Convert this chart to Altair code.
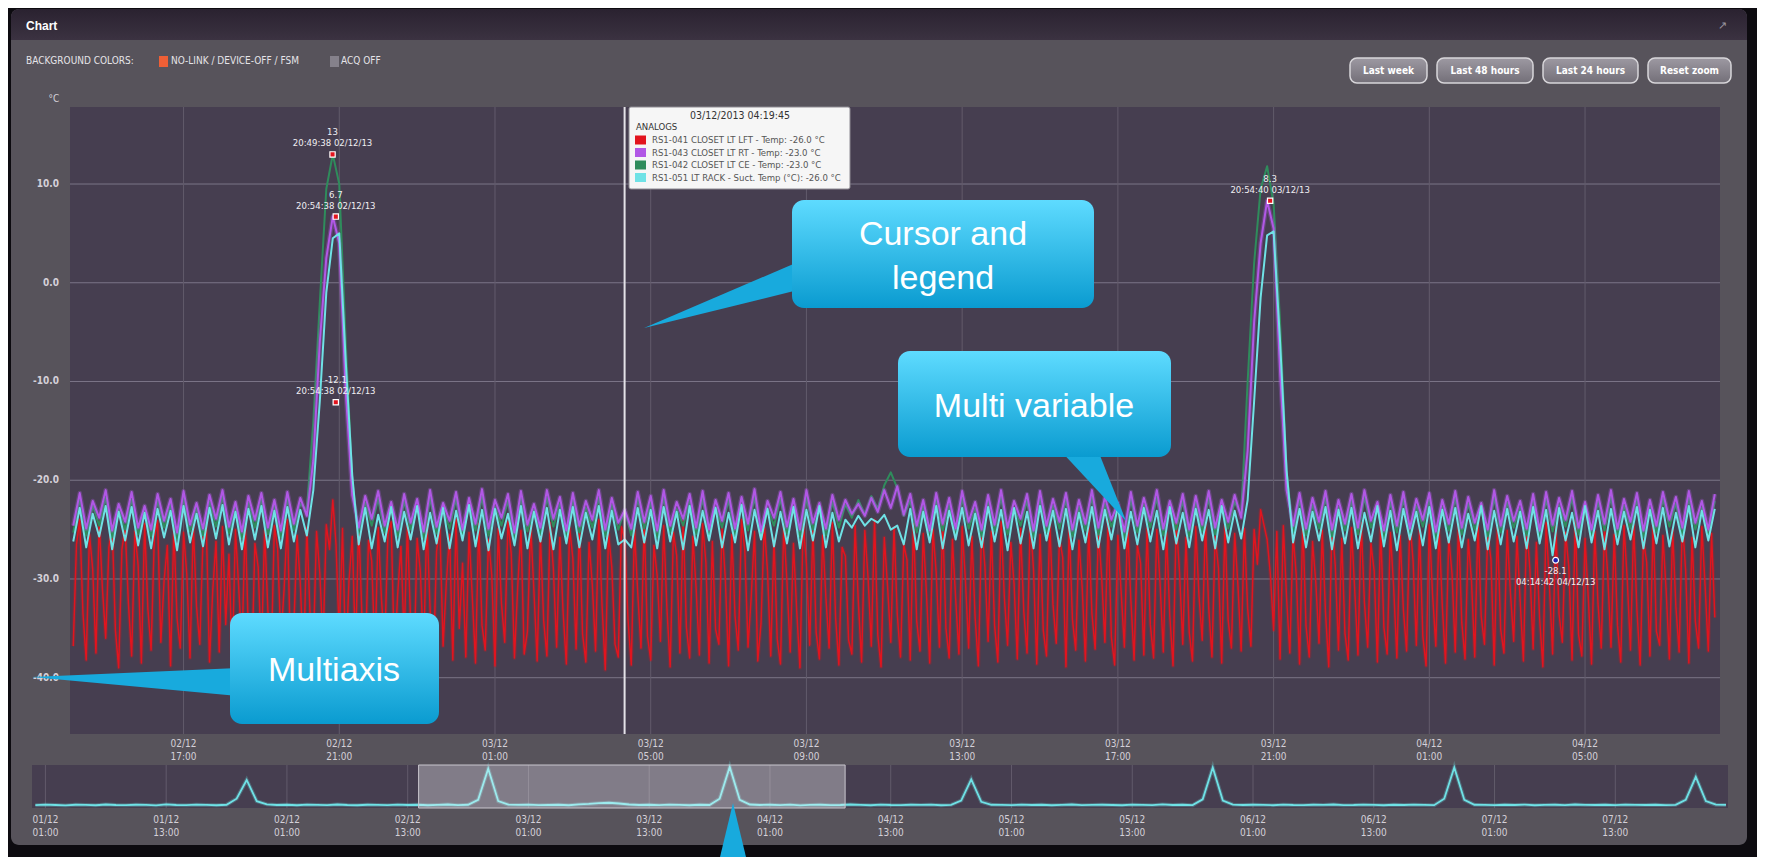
import altair as alt
import pandas as pd

# ---------------- values ----------------
MAIN_START = "2013-12-02 14:10"   # zoomed window
MAIN_FREQ = "10min"               # purple / green / cyan samples
RED_FREQ = "5min"                 # red (LFT) samples

red_lft = [
    -36.8,-26.5,-24.0,-33.5,-38.2,-25.5,-29.0,-37.5,-24.2,-31.0,-36.0,-26.8,
    -24.6,-35.2,-39.0,-27.0,-24.8,-32.4,-37.8,-25.2,-28.6,-38.5,-24.4,-33.0,
    -37.2,-25.8,-24.1,-36.4,-30.2,-26.6,-38.8,-24.9,-34.0,-37.0,-25.3,-29.5,
    -38.0,-24.5,-32.8,-36.6,-25.9,-24.3,-38.4,-31.2,-26.2,-37.4,-24.7,-34.6,
    -27.5,-38.6,-25.0,-30.8,-37.1,-24.2,-35.5,-39.1,-26.4,-28.8,-37.6,-25.1,
    -33.2,-38.3,-24.6,-26.9,-36.2,-31.0,-24.0,-37.9,-34.8,-25.6,-30.5,-38.7,
    -24.8,-33.6,-37.0,-25.2,-29.4,-36.5,-24.5,-27.0,-22.0,-26.5,-35.8,-24.9,
    -38.4,-30.2,-25.7,-37.3,-24.3,-33.9,-38.9,-26.1,-28.2,-37.7,-24.8,-32.0,
    -36.9,-25.4,-24.2,-38.1,-31.6,-26.7,-36.0,-24.6,-34.4,-39.0,-25.9,-29.3,
    -37.5,-24.1,-33.1,-38.6,-27.2,-24.7,-36.8,-30.4,-25.5,-38.2,-24.0,-35.0,
    -28.4,-37.9,-25.3,-31.8,-38.5,-24.4,-34.7,-37.2,-26.0,-29.6,-38.8,-24.9,
    -32.5,-36.4,-24.2,-27.4,-38.0,-30.8,-25.1,-37.6,-35.3,-24.6,-31.2,-38.3,
    -25.6,-34.2,-37.8,-24.3,-29.0,-36.9,-25.8,-33.4,-38.6,-24.8,-27.9,-37.1,
    -24.5,-35.6,-38.4,-26.3,-30.6,-37.3,-24.0,-32.7,-39.2,-25.4,-28.8,-36.6,
    -37.9,-24.7,-26.0,-34.1,-38.7,-25.0,-31.4,-37.0,-24.3,-35.8,-38.2,-26.6,
    -29.7,-36.3,-24.6,-33.0,-38.9,-25.3,-27.6,-37.5,-24.1,-34.9,-38.0,-25.7,
    -31.0,-37.7,-24.4,-28.3,-38.5,-26.2,-35.1,-36.6,-24.8,-30.0,-38.8,-25.5,
    -33.8,-37.2,-24.0,-27.1,-36.9,-31.7,-25.2,-38.3,-34.5,-24.5,-29.2,-37.8,
    -25.9,-36.1,-38.6,-24.7,-30.3,-37.4,-26.4,-33.2,-39.0,-24.2,-28.5,-36.7,
    -24.9,-35.4,-38.1,-25.6,-31.9,-37.0,-24.3,-34.0,-38.7,-26.8,-27.7,-36.2,
    -37.6,-24.6,-32.3,-38.4,-25.1,-29.9,-36.8,-24.0,-35.7,-38.9,-25.8,-30.7,
    -36.4,-24.8,-33.6,-37.9,-26.5,-28.1,-38.2,-24.4,-34.3,-37.3,-25.4,-31.5,
    -38.5,-25.0,-29.4,-36.9,-24.1,-35.0,-38.0,-26.0,-32.0,-37.6,-24.7,-30.1,
    -37.0,-25.7,-33.9,-38.8,-24.5,-28.7,-36.3,-25.2,-34.7,-38.4,-24.2,-31.8,
    -36.7,-26.3,-30.5,-38.1,-24.9,-33.3,-37.5,-24.0,-29.1,-38.6,-25.5,-35.2,
    -37.8,-24.3,-32.6,-36.5,-25.9,-27.8,-38.9,-24.6,-34.1,-37.2,-26.1,-30.9,
    -38.3,-24.8,-33.5,-37.1,-25.2,-29.8,-36.4,-24.1,-35.9,-38.7,-25.6,-31.3,
    -36.9,-24.5,-32.1,-38.2,-26.6,-28.4,-37.7,-24.9,-34.6,-38.0,-25.0,-30.4,
    -37.4,-25.3,-33.7,-38.8,-24.2,-29.3,-36.6,-25.8,-35.4,-38.3,-24.7,-31.7,
    -36.2,-24.4,-32.9,-37.9,-25.7,-28.9,-38.5,-24.6,-34.2,-37.0,-25.4,-30.6,
    -37.3,-24.9,-33.0,-36.8,-25.0,-28.5,-23.0,-24.5,-26.0,-29.5,-35.2,-25.2,
    -38.1,-24.6,-31.9,-37.5,-25.5,-29.7,-38.6,-24.2,-34.8,-37.9,-26.2,-30.3,
    -36.5,-25.1,-33.4,-38.9,-24.4,-28.6,-37.2,-25.9,-35.5,-38.2,-24.8,-31.1,
    -37.7,-24.3,-32.4,-36.9,-26.4,-29.2,-38.4,-24.7,-34.9,-37.6,-25.3,-30.8,
    -38.0,-25.6,-33.1,-37.3,-24.1,-28.2,-36.7,-25.0,-35.8,-38.8,-24.5,-31.6,
    -36.8,-24.9,-32.7,-38.5,-25.8,-29.5,-37.4,-24.4,-34.4,-38.1,-26.0,-30.2,
    -37.9,-24.2,-33.8,-36.6,-25.4,-28.0,-38.7,-24.8,-35.1,-37.5,-25.1,-31.4,
    -36.3,-25.7,-32.2,-38.3,-24.6,-29.0,-37.1,-26.3,-34.0,-38.9,-24.3,-30.5,
    -37.6,-24.7,-33.6,-36.4,-25.3,-28.8,-38.2,-24.0,-35.6,-37.8,-25.9,-31.9,
    -38.6,-25.2,-32.5,-37.0,-24.9,-29.6,-36.9,-25.5,-34.7,-38.4,-24.6,-30.0,
    -37.2,-24.5,-33.2,-38.7,-26.1,-28.3,-37.8,-24.3,-35.3,-36.7,-25.6,-31.2,
    -38.1,-25.0,-32.8,-37.4,-24.2,-29.1,-38.5,-25.8,-34.3,-37.0,-24.7,-30.7,
    -37.3,-25.4,-33.9,
]

purple_rt = [
    -24.6,-21.3,-24.9,-22.1,-23.8,-21.0,-25.1,-22.4,-24.2,
    -21.2,-24.8,-22.6,-25.0,-21.4,-24.1,-21.9,-25.3,-21.1,-24.5,
    -22.3,-24.9,-21.5,-23.9,-21.0,-24.7,-22.2,-25.2,-21.6,-24.0,
    -21.3,-24.8,-22.0,-25.1,-21.2,-24.4,-21.8,-23.6,
    -18.0,-6.0,2.5,6.7,4.0,-11.0,-21.5,
    -24.8,-21.6,-23.9,-21.1,-24.6,
    -22.2,-25.0,-21.4,-24.3,-21.9,-25.2,-21.0,-24.7,-22.3,-24.1,
    -21.2,-25.0,-21.8,-24.4,-20.9,-24.9,-22.0,-23.8,-21.4,-25.3,
    -21.1,-24.5,-22.4,-24.8,-21.0,-23.9,-21.7,-25.1,-21.3,-24.6,
    -22.1,-24.0,-21.0,-25.0,-21.8,-24.3,-23.0,-24.9,-21.2,-24.2,
    -21.6,-25.1,-21.0,-24.6,-22.2,-23.9,-21.4,-24.8,-21.1,-25.0,
    -22.0,-24.1,-21.3,-24.9,-21.7,-24.4,-20.9,-25.2,-22.1,-23.8,
    -21.2,-24.7,-21.9,-25.0,-21.0,-24.3,-22.3,-24.9,-21.5,-24.0,
    -22.0,-23.4,-22.4,-23.6,-21.8,-23.2,-21.0,-22.8,-20.6,-23.5,
    -21.4,-24.6,-22.0,-25.1,-21.3,-24.4,-21.8,-24.9,-21.1,-24.2,
    -22.2,-25.0,-21.5,-24.5,-21.0,-24.8,-22.1,-23.9,-21.4,-25.1,
    -21.1,-24.6,-21.9,-24.2,-21.3,-25.0,-22.0,-24.4,-21.0,-24.8,
    -21.7,-24.0,-22.3,-25.2,-21.2,-24.6,-21.8,-24.1,-21.0,-24.9,
    -22.1,-24.3,-21.4,-25.0,-21.6,-24.5,-21.1,-24.8,-22.0,-24.2,
    -21.5,-23.8,
    -17.0,-4.0,4.0,8.3,5.5,-9.0,-21.0,
    -24.6,-21.3,-24.9,-21.8,-24.2,-21.1,-25.0,-22.0,-24.4,-21.4,-24.8,
    -21.0,-24.1,-22.2,-25.1,-21.5,-24.6,-21.2,-24.9,-21.9,-24.0,
    -21.3,-25.2,-22.0,-24.4,-21.1,-24.8,-21.7,-24.3,-22.3,-25.0,
    -21.0,-24.6,-21.6,-24.1,-22.1,-24.9,-21.4,-25.1,-21.2,-24.5,
    -21.8,-24.0,-21.1,-24.8,-22.2,-25.0,-21.5,-24.4,-21.0,-24.9,
    -21.9,-24.2,-21.3,-25.1,-22.0,-24.6,-21.2,-24.0,-21.7,-24.8,
    -21.1,-24.3,-22.1,-25.0,-21.4,
]

green_ce = [
    -25.3,-21.9,-25.6,-22.6,-24.6,-21.8,-25.8,-22.9,-25.0,
    -22.0,-25.5,-23.0,-25.7,-22.1,-24.8,-22.5,-26.0,-21.9,-25.2,
    -22.8,-25.6,-22.2,-24.7,-21.7,-25.4,-22.7,-25.9,-22.3,-24.8,
    -22.0,-25.5,-22.6,-25.8,-21.9,-25.1,-22.4,-23.0,
    -14.0,-2.0,9.5,13.0,10.0,-6.0,-20.0,
    -25.4,-22.3,-24.6,-21.9,-25.3,
    -22.8,-25.7,-22.1,-25.0,-22.6,-25.9,-21.8,-25.4,-22.9,-24.9,
    -21.9,-25.7,-22.5,-25.1,-21.7,-25.6,-22.7,-24.6,-22.1,-26.0,
    -21.8,-25.2,-23.0,-25.5,-21.8,-24.7,-22.4,-25.8,-22.0,-25.3,
    -22.8,-24.8,-21.8,-25.7,-22.5,-25.0,-23.0,-25.6,-21.9,-24.9,
    -22.3,-25.8,-21.7,-25.3,-22.9,-24.6,-22.1,-25.5,-21.8,-25.7,
    -22.7,-24.8,-22.0,-25.6,-22.4,-25.1,-21.7,-25.9,-22.8,-24.6,
    -21.9,-25.4,-22.6,-25.7,-21.8,-25.0,-23.0,-25.6,-22.2,-24.8,
    -22.5,-23.8,-22.0,-23.5,-21.6,-22.9,-20.5,-19.2,-20.8,-23.6,
    -22.1,-25.3,-22.7,-25.8,-22.0,-25.1,-22.5,-25.6,-21.8,-24.9,
    -22.9,-25.7,-22.2,-25.2,-21.7,-25.5,-22.8,-24.6,-22.1,-25.8,
    -21.8,-25.3,-22.6,-24.9,-22.0,-25.7,-22.7,-25.1,-21.7,-25.5,
    -22.4,-24.7,-23.0,-25.9,-21.9,-25.3,-22.5,-24.8,-21.8,-25.6,
    -22.8,-25.0,-22.1,-25.7,-22.3,-25.2,-21.8,-25.5,-22.7,-24.9,
    -22.2,-23.5,
    -10.0,2.0,9.5,11.8,8.0,-4.0,-19.0,
    -25.3,-22.0,-25.6,-22.5,-24.9,-21.8,-25.7,-22.7,-25.1,-22.1,-25.5,
    -21.7,-24.8,-22.9,-25.8,-22.2,-25.3,-21.9,-25.6,-22.6,-24.7,
    -22.0,-25.9,-22.7,-25.1,-21.8,-25.5,-22.4,-25.0,-23.0,-25.7,
    -21.7,-25.3,-22.3,-24.8,-22.8,-25.6,-22.1,-25.8,-21.9,-25.2,
    -22.5,-24.7,-21.8,-25.5,-22.9,-25.7,-22.2,-25.1,-21.7,-25.6,
    -22.6,-24.9,-22.0,-25.8,-22.7,-25.3,-21.9,-24.7,-22.4,-25.5,
    -21.8,-25.0,-22.8,-25.7,-22.1,
]

cyan_rack = [
    -26.2,-22.8,-26.8,-23.4,-25.7,-22.6,-27.0,-23.2,-26.1,
    -22.7,-26.6,-23.3,-26.9,-22.9,-25.8,-23.1,-27.1,-22.6,-26.3,
    -23.4,-26.7,-22.8,-25.9,-22.5,-26.5,-23.2,-27.0,-22.9,-26.0,
    -22.6,-26.8,-23.1,-26.9,-22.7,-26.2,-23.0,-25.6,
    -21.0,-12.0,-1.0,4.5,5.0,-8.0,-19.5,
    -26.5,-22.8,-26.9,-23.5,-26.2,
    -22.7,-26.8,-23.2,-26.0,-22.6,-27.0,-23.3,-26.4,-22.8,-26.9,
    -23.1,-26.1,-22.5,-26.7,-23.0,-27.1,-22.9,-25.9,-23.4,-26.6,
    -22.6,-26.9,-23.2,-26.2,-22.8,-27.0,-23.0,-26.4,-22.7,-26.8,
    -23.3,-26.0,-22.6,-26.9,-23.1,-26.5,-26.0,-26.8,-22.8,-26.3,
    -23.0,-26.9,-22.7,-26.2,-23.2,-27.0,-22.6,-26.6,-23.1,-26.1,
    -22.8,-26.8,-23.3,-26.3,-22.5,-27.1,-23.0,-26.0,-22.9,-26.7,
    -23.2,-26.4,-22.7,-26.9,-23.0,-26.1,-22.6,-26.8,-23.3,-26.2,
    -24.0,-24.8,-23.6,-24.6,-23.9,-24.3,-23.5,-25.0,-24.6,-26.5,
    -22.9,-27.0,-23.2,-26.3,-22.6,-26.9,-23.1,-26.0,-22.8,-26.6,
    -23.4,-26.8,-22.7,-26.2,-23.0,-27.1,-22.8,-26.4,-23.2,-26.9,
    -22.6,-26.1,-23.1,-26.7,-22.9,-27.0,-23.3,-26.3,-22.7,-26.8,
    -23.0,-26.0,-22.6,-26.9,-23.2,-26.5,-22.8,-26.2,-23.1,-27.0,
    -22.7,-26.4,-23.3,-26.8,-22.9,-26.1,-23.0,-26.9,-22.6,-26.3,
    -23.1,-25.9,
    -22.0,-12.0,-1.5,4.8,5.2,-6.0,-19.0,
    -26.3,-22.9,-26.8,-23.2,-26.1,-22.7,-27.0,-23.0,-26.4,-22.8,-26.9,
    -23.3,-26.2,-22.6,-26.7,-23.1,-27.1,-22.9,-26.0,-23.2,-26.6,
    -22.7,-26.9,-23.0,-26.3,-22.8,-26.8,-23.4,-26.1,-22.6,-27.0,
    -23.1,-26.5,-22.9,-26.2,-23.2,-26.9,-22.7,-26.4,-23.0,-27.6,
    -22.8,-26.1,-23.3,-26.8,-22.6,-26.3,-23.1,-27.0,-22.9,-26.5,
    -23.2,-26.0,-22.7,-26.9,-23.0,-26.4,-22.8,-26.7,-23.3,-26.2,
    -22.6,-26.8,-23.1,-26.1,-22.9,
]

NAV_START = "2013-12-01 00:00"   # navigator, hourly samples over the week
NAV_FREQ = "1h"
nav_rack = [
    -25.2,-24.8,-25.1,-25.4,-24.9,-25.0,-25.3,-24.7,-25.1,-25.2,-24.9,-25.0,
    -25.4,-24.6,-25.1,-25.2,-24.8,-25.0,-25.3,-24.9,-20.0,-5.0,-22.0,-24.6,
    -25.1,-24.9,-25.3,-24.8,-25.0,-25.2,-24.7,-25.1,-25.3,-24.9,-25.0,-25.2,
    -24.8,-25.1,-24.9,-25.3,-25.0,-24.7,-25.2,-24.9,-21.0,4.0,-22.0,-24.8,
    -25.0,-24.8,-25.2,-25.1,-24.9,-25.3,-24.6,-24.2,-23.6,-23.3,-23.9,-24.7,
    -25.1,-24.9,-25.2,-24.8,-25.0,-25.3,-24.9,-25.1,-20.0,5.5,-21.0,-24.7,
    -25.1,-24.9,-25.2,-24.8,-25.4,-25.0,-24.9,-25.2,-25.1,-24.7,-25.0,-25.3,
    -24.8,-25.1,-25.2,-24.9,-25.0,-24.8,-25.3,-25.0,-21.5,-4.5,-22.5,-24.9,
    -25.0,-25.2,-24.8,-25.1,-24.9,-25.3,-25.0,-24.7,-25.2,-25.0,-24.9,-25.1,
    -25.3,-24.8,-25.0,-25.2,-24.6,-25.1,-24.9,-25.2,-20.5,5.0,-21.5,-24.8,
    -25.1,-24.9,-25.0,-25.3,-24.8,-25.1,-25.2,-24.9,-25.0,-24.7,-25.2,-25.1,
    -24.8,-25.0,-25.3,-24.9,-25.1,-24.8,-25.0,-25.2,-20.0,5.0,-21.0,-24.9,
    -25.0,-25.2,-24.9,-25.1,-24.8,-25.3,-25.0,-24.9,-25.2,-24.7,-25.0,-25.1,
    -24.9,-25.2,-24.8,-25.0,-25.1,-24.9,-25.2,-25.0,-21.0,-2.5,-22.0,-24.8,
    -25.0,
]

main_ticks = ["2013-12-02 17:00", "2013-12-02 21:00", "2013-12-03 01:00", "2013-12-03 05:00",
              "2013-12-03 09:00", "2013-12-03 13:00", "2013-12-03 17:00", "2013-12-03 21:00",
              "2013-12-04 01:00", "2013-12-04 05:00"]
y_ticks = [10, 0, -10, -20, -30, -40]
nav_ticks = ["2013-12-01 01:00", "2013-12-01 13:00", "2013-12-02 01:00", "2013-12-02 13:00",
             "2013-12-03 01:00", "2013-12-03 13:00", "2013-12-04 01:00", "2013-12-04 13:00",
             "2013-12-05 01:00", "2013-12-05 13:00", "2013-12-06 01:00", "2013-12-06 13:00",
             "2013-12-07 01:00", "2013-12-07 13:00"]

peak_times = ["2013-12-02 20:49:38", "2013-12-02 20:54:38", "2013-12-02 20:54:38", "2013-12-03 20:54:40"]
peak_values = [13, 6.7, -12.1, 8.3]
min_time = ["2013-12-04 04:14:42"]
min_value = [-28.1]

cursor_time = ["2013-12-03 04:19:45"]
series_names = ["RS1-041 CLOSET LT LFT - Temp", "RS1-043 CLOSET LT RT - Temp",
                "RS1-042 CLOSET LT CE - Temp", "RS1-051 LT RACK - Suct. Temp (°C)"]
cursor_values = [-26.0, -23.0, -23.0, -26.0]
series_colors = ["#e2141e", "#b158e6", "#2f8c5c", "#6fe2e6"]

buttons = ["Last week", "Last 48 hours", "Last 24 hours", "Reset zoom"]

# ---------------- layout / style ----------------
W, H = 1749, 849
PX0, PY0, PX1, PY1 = 62, 99, 1712, 726       # main plot area
NX0, NY0, NX1, NY1 = 24, 757, 1720, 800      # navigator area
BLACK, PANEL, PLOTBG = "#0d0b10", "#57535b", "#463e50"
GRID_H, GRID_V, TXT = "#7b7587", "#625b6b", "#d4d0d8"
NARROW = "Liberation Sans Narrow, DejaVu Sans Condensed, sans-serif"
ARIAL = "Liberation Sans, Arial, sans-serif"


def dt(y, mo, d, h, mi):
    return alt.DateTime(year=y, month=mo, date=d, hours=h, minutes=mi)


main_x = alt.Scale(domain=[dt(2013, 12, 2, 14, 5), dt(2013, 12, 4, 8, 28)], range=[PX0, PX1], nice=False)
main_y = alt.Scale(domain=[-45.7, 17.8], range=[PY1, PY0], zero=False, nice=False)
nav_x = alt.Scale(domain=[dt(2013, 11, 30, 23, 40), dt(2013, 12, 8, 0, 12)], range=[NX0, NX1], nice=False)
nav_y = alt.Scale(domain=[-27.5, 7.0], range=[NY1, NY0], zero=False, nice=False)


def PXQ(f):
    return alt.X(f"{f}:Q", scale=None, axis=None)


def PYQ(f):
    return alt.Y(f"{f}:Q", scale=None, axis=None)


def rects(rows, **mark):
    df = pd.DataFrame(rows, columns=["x0", "y0", "x1", "y1"])
    return alt.Chart(df).mark_rect(**mark).encode(x=PXQ("x0"), x2="x1:Q", y=PYQ("y0"), y2="y1:Q")


def ptext(rows, **mark):
    df = pd.DataFrame(rows, columns=["x", "y", "s"])
    return alt.Chart(df).mark_text(**mark).encode(x=PXQ("x"), y=PYQ("y"), text="s:N")


def grad(c0, c1):
    return alt.Gradient(gradient="linear", x1=0, x2=0, y1=0, y2=1,
                        stops=[alt.GradientStop(color=c0, offset=0), alt.GradientStop(color=c1, offset=1)])


# ---------------- chrome ----------------
panel = rects([(3, 1, 1739, 837)], fill=PANEL, cornerRadius=8)
header = rects([(3, 1, 1739, 32)], fill=grad("#2a2230", "#3b3241"),
               cornerRadiusTopLeft=8, cornerRadiusTopRight=8)
plot_bg = rects([(PX0, PY0, PX1, PY1)], fill=PLOTBG)
nav_bg = rects([(NX0, NY0, NX1, NY1)], fill=PLOTBG)
header_txt = ptext([(18, 18, "Chart")], align="left", baseline="middle", font=ARIAL,
                   fontSize=12, fontWeight="bold", color="#ffffff")
pin = ptext([(1714, 18, "↗")], align="center", baseline="middle", fontSize=11, color="#9a96a0")
legend_txt = ptext([(18, 53, "BACKGROUND COLORS:"), (163, 53, "NO-LINK / DEVICE-OFF / FSM"),
                    (333, 53, "ACQ OFF")], align="left", baseline="middle", font=NARROW,
                   fontSize=10, color="#e6e4e8")
legend_sq = alt.layer(rects([(151, 48, 160, 59)], fill="#ee5f36"),
                      rects([(322, 48, 331, 59)], fill="#85818b"))
bx = [(1342, 1419), (1429, 1525), (1535, 1630), (1640, 1723)]
btn_rect = rects([(a, 50, b, 75) for a, b in bx], fill=grad("#9d99a2", "#736f78"),
                 stroke="#d8d6da", strokeWidth=1.5, cornerRadius=7)
btn_txt = ptext([((a + b) / 2, 63, s) for (a, b), s in zip(bx, buttons)], align="center",
                baseline="middle", font=NARROW, fontSize=10, fontWeight="bold", color="#ffffff")
unit_txt = ptext([(46, 91, "°C")], align="center", baseline="middle", font=NARROW, fontSize=10, color=TXT)

# ---------------- main plot ----------------
MX = alt.X("t:T", scale=main_x, axis=None)
MY = alt.Y("v:Q", scale=main_y, axis=None)


def series(vals, color, width, opacity=1.0, freq=MAIN_FREQ):
    df = pd.DataFrame({"t": pd.date_range(MAIN_START, periods=len(vals), freq=freq), "v": vals})
    return alt.Chart(df).mark_line(color=color, strokeWidth=width, opacity=opacity,
                                   strokeJoin="round").encode(x=MX, y=MY)


ydf = pd.DataFrame({"v": y_ticks, "lab": [f"{v:.1f}" for v in y_ticks]})
tdf = pd.DataFrame({"t": pd.to_datetime(main_ticks)})
tdf["lab"] = tdf["t"].dt.strftime("%d/%m\n%H:%M")

hgrid = alt.Chart(ydf).mark_rule(color=GRID_H, strokeWidth=1).encode(
    y=MY, x=alt.value(PX0), x2=alt.value(PX1))
vgrid = alt.Chart(tdf).mark_rule(color=GRID_V, strokeWidth=1).encode(
    x=MX, y=alt.value(PY0), y2=alt.value(PY1))
ylab = alt.Chart(ydf).mark_text(align="right", baseline="middle", font=NARROW, fontSize=10,
                                fontWeight="bold", color=TXT).encode(y=MY, x=alt.value(51), text="lab:N")
xlab = alt.Chart(tdf).mark_text(align="center", baseline="top", lineBreak="\n", lineHeight=13,
                                font=NARROW, fontSize=10, color=TXT).encode(
    x=MX, y=alt.value(731), text="lab:N")

cdf = pd.DataFrame({"t": pd.to_datetime(cursor_time)})
cursor = alt.Chart(cdf).mark_rule(color="#e4e2e8", strokeWidth=2).encode(
    x=MX, y=alt.value(PY0), y2=alt.value(PY1))

pk = pd.DataFrame({"t": pd.to_datetime(peak_times), "v": peak_values})
pk["lab"] = [f"{v:g}\n{t:%H:%M:%S %d/%m/%y}" for v, t in zip(pk["v"], pk["t"])]
pk_pts = alt.Chart(pk).mark_square(size=28, fill="#e3141e", stroke="#ffffff", strokeWidth=1.2,
                                   opacity=1).encode(x=MX, y=MY)
pk_txt = alt.Chart(pk).mark_text(align="center", baseline="bottom", dy=-17, lineBreak="\n",
                                 lineHeight=11, font=NARROW, fontSize=9.5, color="#f0eef2").encode(
    x=MX, y=MY, text="lab:N")
mn = pd.DataFrame({"t": pd.to_datetime(min_time), "v": min_value})
mn["lab"] = [f"{v:g}\n{t:%H:%M:%S %d/%m/%y}" for v, t in zip(mn["v"], mn["t"])]
mn_pt = alt.Chart(mn).mark_circle(size=34, fill="#1c1fb0", stroke="#ffffff", strokeWidth=1.2,
                                  opacity=1).encode(x=MX, y=MY)
mn_txt = alt.Chart(mn).mark_text(align="center", baseline="top", dy=6, lineBreak="\n",
                                 lineHeight=11, font=NARROW, fontSize=9.5, color="#f0eef2").encode(
    x=MX, y=MY, text="lab:N")

main = alt.layer(
    hgrid, vgrid,
    series(red_lft, series_colors[0], 4.0, 0.2, RED_FREQ),
    series(red_lft, series_colors[0], 1.5, 1.0, RED_FREQ),
    series(green_ce, series_colors[2], 2.0),
    series(purple_rt, series_colors[1], 4.5, 0.3),
    series(purple_rt, series_colors[1], 2.0),
    series(cyan_rack, series_colors[3], 2.0),
    cursor, pk_pts, pk_txt, mn_pt, mn_txt, ylab, xlab,
)

# ---------------- navigator ----------------
NXE = alt.X("t:T", scale=nav_x, axis=None)
NYE = alt.Y("v:Q", scale=nav_y, axis=None)
ndf = pd.DataFrame({"t": pd.date_range(NAV_START, periods=len(nav_rack), freq=NAV_FREQ), "v": nav_rack})
ntd = pd.DataFrame({"t": pd.to_datetime(nav_ticks)})
ntd["lab"] = ntd["t"].dt.strftime("%d/%m\n%H:%M")
sel = pd.DataFrame({"a": [pd.Timestamp("2013-12-02 14:05")], "b": [pd.Timestamp("2013-12-04 08:28")]})

nav = alt.layer(
    alt.Chart(ntd).mark_rule(color=GRID_V, strokeWidth=1).encode(x=NXE, y=alt.value(NY0), y2=alt.value(NY1)),
    alt.Chart(ndf).mark_line(color="#6fe2e6", strokeWidth=4, opacity=0.25).encode(x=NXE, y=NYE),
    alt.Chart(ndf).mark_line(color="#6fe2e6", strokeWidth=1.8).encode(x=NXE, y=NYE),
    alt.Chart(sel).mark_rect(fill="#ffffff", fillOpacity=0.32, stroke="#c9c6ce", strokeWidth=1).encode(
        x=alt.X("a:T", scale=nav_x, axis=None), x2="b:T", y=alt.value(NY0), y2=alt.value(NY1)),
    alt.Chart(ntd).mark_text(align="center", baseline="top", lineBreak="\n", lineHeight=13,
                             font=NARROW, fontSize=10, color=TXT).encode(x=NXE, y=alt.value(807), text="lab:N"),
)

# ---------------- tooltip ----------------
rows_y = [132, 144.5, 157, 169.5]
tip_box = rects([(621, 99, 842, 181)], fill="#f6f6f6", stroke="#8d8a92", strokeWidth=1, cornerRadius=2)
tip_sq = alt.Chart(pd.DataFrame({"x0": [627] * 4, "x1": [638] * 4, "y0": [y - 4.5 for y in rows_y],
                                 "y1": [y + 4.5 for y in rows_y], "c": series_colors})).mark_rect().encode(
    x=PXQ("x0"), x2="x1:Q", y=PYQ("y0"), y2="y1:Q", fill=alt.Fill("c:N", scale=None, legend=None))
tip_title = ptext([(732, 108, "03/12/2013 04:19:45")], align="center", baseline="middle",
                  font=NARROW, fontSize=10.5, color="#333333")
tip_head = ptext([(628, 119, "ANALOGS")], align="left", baseline="middle", font=NARROW,
                 fontSize=9.5, color="#333333")
tip_rows = ptext([(644, y, f"{n}: {v:.1f} °C") for y, n, v in zip(rows_y, series_names, cursor_values)],
                 align="left", baseline="middle", font=NARROW, fontSize=9.5, color="#555555")

# ---------------- callouts ----------------
CALL = grad("#5edbff", "#0a9bd0")
POINT = "#18aadd"


def wedge_v(rows):
    df = pd.DataFrame(rows, columns=["x", "y", "y2"])
    return alt.Chart(df).mark_area(orient="vertical", color=POINT).encode(x=PXQ("x"), y=PYQ("y"), y2="y2:Q")


def wedge_h(rows):
    df = pd.DataFrame(rows, columns=["y", "x", "x2"])
    return alt.Chart(df).mark_area(orient="horizontal", color=POINT).encode(y=PYQ("y"), x=PXQ("x"), x2="x2:Q")


callouts = alt.layer(
    wedge_v([(636, 320, 320), (790, 254, 282)]),
    wedge_h([(440, 1050, 1089), (513, 1118, 1118)]),
    wedge_v([(24, 669, 669), (230, 660, 688)]),
    wedge_h([(795, 725, 725), (849, 712, 738)]),
    rects([(784, 192, 1086, 300), (890, 343, 1163, 449), (222, 605, 431, 716)], fill=CALL, cornerRadius=12),
    ptext([(935, 227, "Cursor and"), (935, 271, "legend"), (1026, 399, "Multi variable"),
           (326, 663, "Multiaxis")], align="center", baseline="middle", font=ARIAL, fontSize=34,
          color="#ffffff"),
)

chart = alt.layer(
    panel, header, plot_bg, nav_bg, header_txt, pin, legend_sq, legend_txt, btn_rect, btn_txt, unit_txt,
    main, nav,
    tip_box, tip_sq, tip_title, tip_head, tip_rows,
    callouts,
).resolve_scale(x="independent", y="independent").properties(
    width=W, height=H, autosize=alt.AutoSizeParams(type="none"), padding=0, background=BLACK,
).configure_view(strokeWidth=0)

chart.save("out.html", embed_options={"renderer": "svg", "actions": False})
